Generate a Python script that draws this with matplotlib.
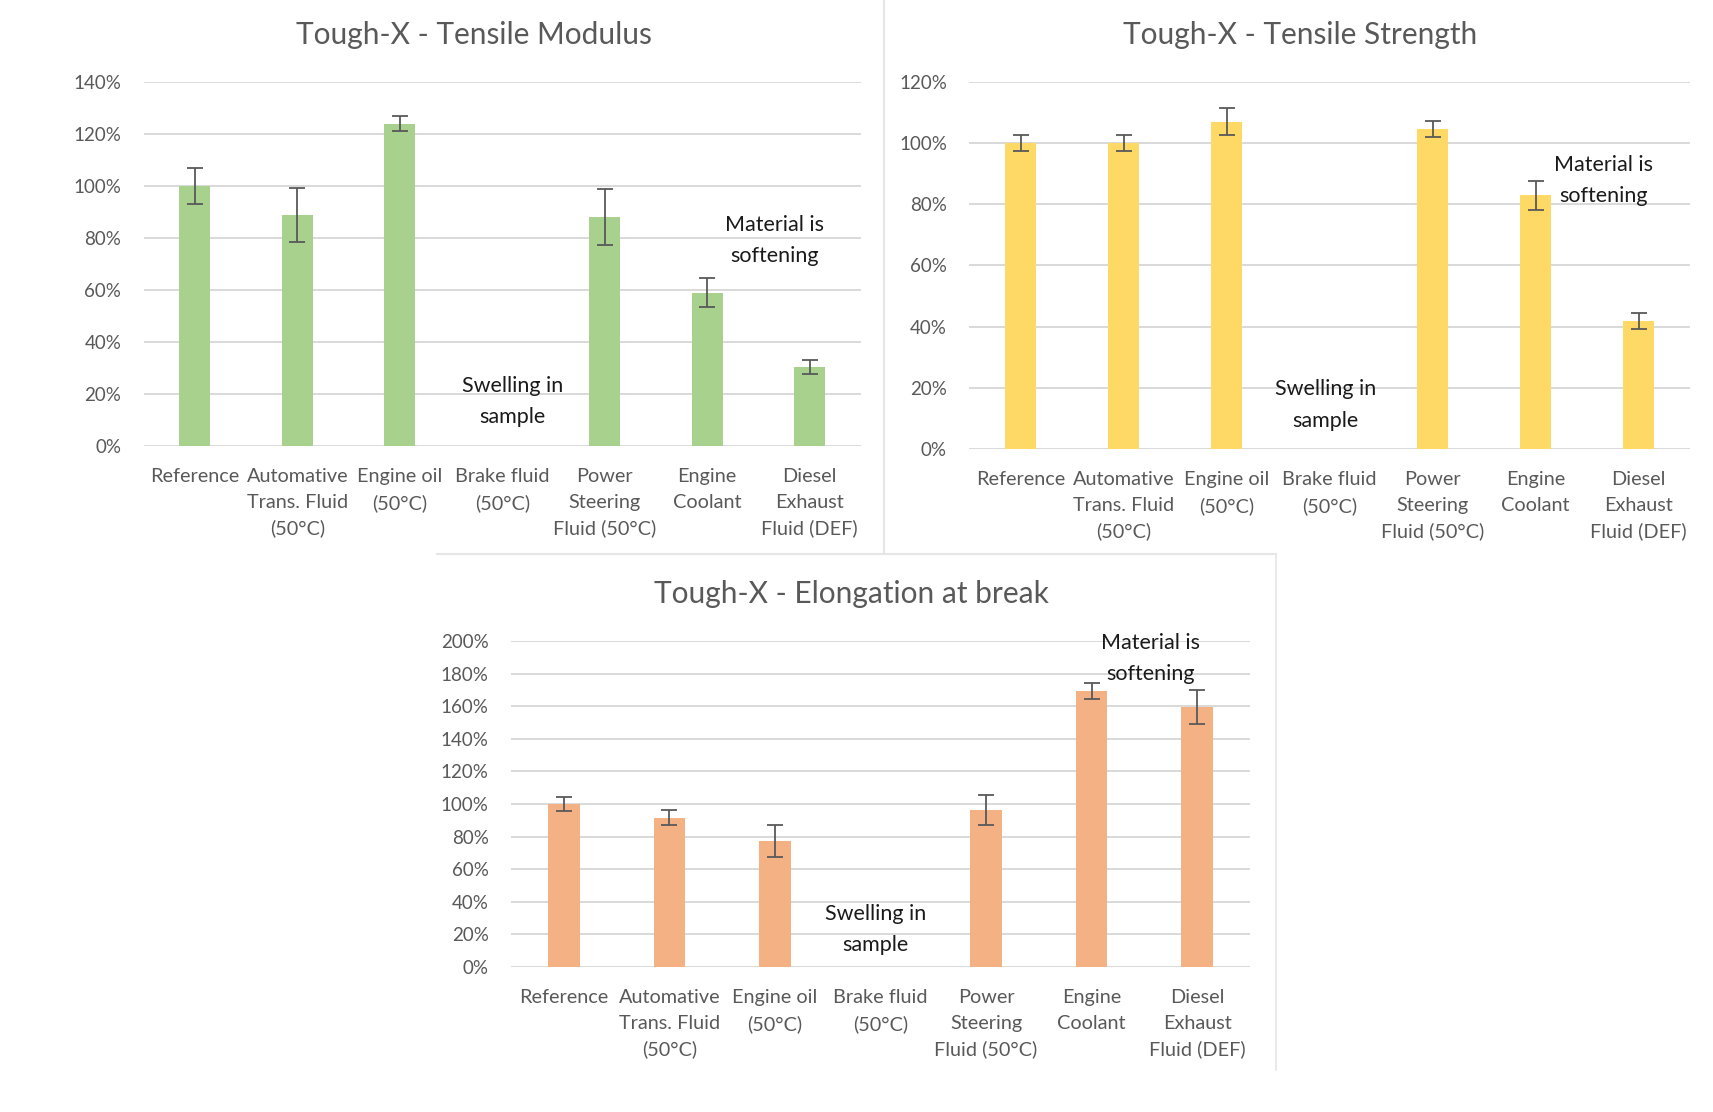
import matplotlib.pyplot as plt
from matplotlib.lines import Line2D
from matplotlib.ticker import MultipleLocator, PercentFormatter

plt.rcParams['font.family'] = ['Lato', 'DejaVu Sans']

# === Data ===
categories = ["Reference", "Automative\nTrans. Fluid\n(50°C)", "Engine oil\n(50°C)",
              "Brake fluid\n(50°C)", "Power\nSteering\nFluid (50°C)", "Engine\nCoolant",
              "Diesel\nExhaust\nFluid (DEF)"]

# None = no bar (brake fluid sample swelled)
modulus = [100, 89, 124, None, 88, 59, 30.5]
modulus_err = [7, 10.4, 3, None, 10.8, 5.5, 2.7]

strength = [100, 100, 107, None, 104.5, 83, 42]
strength_err = [2.7, 2.7, 4.5, None, 2.6, 4.7, 2.6]

elongation = [100, 91.5, 77, None, 96.5, 169.5, 159.5]
elongation_err = [4.2, 4.7, 9.8, None, 9.2, 5, 10.3]

TEXT_GREY = "#595959"
GRID = "#D9D9D9"


def draw_panel(ax, title, title_x, values, errs, color, ymax, step, swell_xy, soft_xy):
    xs = [i for i, v in enumerate(values) if v is not None]
    vals = [values[i] for i in xs]
    err = [errs[i] for i in xs]
    ax.bar(xs, vals, width=0.3, color=color, zorder=2)
    ax.errorbar(xs, vals, yerr=err, fmt="none", ecolor=TEXT_GREY, elinewidth=1.3,
                capsize=5.5, capthick=1.3, zorder=3)

    ax.set_xlim(-0.5, len(categories) - 0.5)
    ax.set_ylim(0, ymax)
    ax.yaxis.set_major_locator(MultipleLocator(step))
    ax.yaxis.set_major_formatter(PercentFormatter(decimals=0))
    ax.set_xticks(range(len(categories)))
    ax.set_xticklabels(categories)
    plt.setp(ax.get_xticklabels(), linespacing=1.6)

    ax.grid(True, axis="y", color=GRID, linewidth=1.4, zorder=0)
    ax.set_axisbelow(True)
    for sp in ax.spines.values():
        sp.set_visible(False)
    ax.tick_params(axis="x", length=0, colors=TEXT_GREY, labelsize=14.3, pad=16)
    ax.tick_params(axis="y", length=0, colors=TEXT_GREY, labelsize=13.5, pad=16)

    ax.set_title(title, color=TEXT_GREY, fontsize=21.5, pad=27, x=title_x)

    ax.text(swell_xy[0], swell_xy[1], "Swelling in\nsample", ha="center", va="center",
            fontsize=15.5, color="#1a1a1a", linespacing=1.7, zorder=4)
    ax.text(soft_xy[0], soft_xy[1], "Material is\nsoftening", ha="center", va="center",
            fontsize=15.5, color="#1a1a1a", linespacing=1.7, zorder=4)


fig = plt.figure(figsize=(17.13, 11.12), dpi=100)

ax1 = fig.add_axes([0.0838, 0.5989, 0.4188, 0.3274])
ax2 = fig.add_axes([0.5657, 0.5962, 0.4209, 0.3301])
ax3 = fig.add_axes([0.2983, 0.1304, 0.4314, 0.2932])

draw_panel(ax1, "Tough-X - Tensile Modulus", 0.46, modulus, modulus_err, "#A9D18E",
           140, 20, (3.1, 17), (5.66, 79))
draw_panel(ax2, "Tough-X - Tensile Strength", 0.459, strength, strength_err, "#FFD966",
           120, 20, (2.96, 14.4), (5.66, 87.7))
draw_panel(ax3, "Tough-X - Elongation at break", 0.461, elongation, elongation_err, "#F4B183",
           200, 20, (2.95, 23), (5.56, 189))

# chart frame lines (from the pasted excel charts)
W, H = 1713, 1112
frame = "#E6E6E6"
fig.add_artist(Line2D([884 / W, 884 / W], [1, 1 - 554 / H], color=frame, lw=1.5))
fig.add_artist(Line2D([437 / W, 1276 / W], [1 - 554 / H, 1 - 554 / H], color=frame, lw=1.5))
fig.add_artist(Line2D([1276 / W, 1276 / W], [1 - 554 / H, 1 - 1070 / H], color=frame, lw=1.2))

fig.savefig("out.png", dpi=100)
